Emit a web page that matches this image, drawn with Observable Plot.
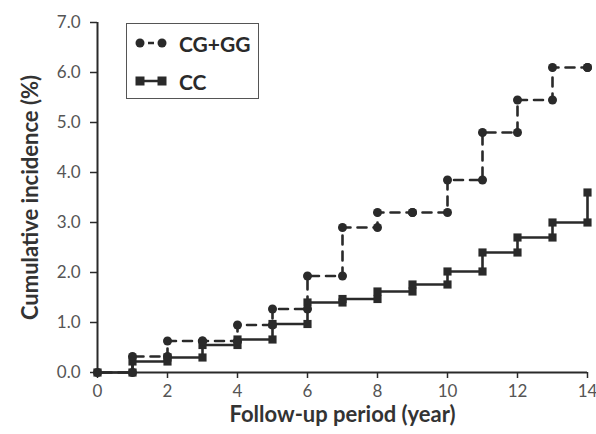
<!DOCTYPE html>
<html>
<head>
<meta charset="utf-8">
<script src="https://cdn.jsdelivr.net/npm/d3@7"></script>
<script src="https://cdn.jsdelivr.net/npm/@observablehq/plot@0.6"></script>
<style>
  html, body { margin: 0; padding: 0; background: #fff; }
  #wrap { position: relative; width: 596px; height: 434px; }
  #legend {
    position: absolute; left: 126px; top: 23px; width: 133px; height: 76px;
    border: 1px solid #555; background: #fff; box-sizing: border-box;
    font-family: Lato, "Open Sans", sans-serif; font-weight: bold; font-size: 21px; color: #2a2a2a;
  }
  .row { position: absolute; left: 0; height: 26px; display: flex; align-items: center; }
  .row svg { margin-left: 8px; }
  .row span { margin-left: 12px; }
</style>
</head>
<body>
<div id="wrap">
  <div id="chart"></div>
  <div id="legend"></div>
</div>
<script>
const years = [0, 1, 2, 3, 4, 5, 6, 7, 8, 9, 10, 11, 12, 13, 14];
const cgggValues = [0, 0.32, 0.63, 0.63, 0.95, 1.27, 1.93, 2.9, 3.2, 3.2, 3.85, 4.8, 5.45, 6.1, 6.1];
const ccValues = [0, 0.22, 0.3, 0.55, 0.66, 0.97, 1.4, 1.47, 1.62, 1.76, 2.02, 2.4, 2.7, 3.0, 3.6];
const seriesNames = ["CG+GG", "CC"];
const yTicks = [0, 1, 2, 3, 4, 5, 6, 7];
const xTicks = [0, 2, 4, 6, 8, 10, 12, 14];
const xLabel = "Follow-up period (year)";
const yLabel = "Cumulative incidence (%)";

const ink = "#2a2a2a";

function steps(values) {
  return years.map((t, i) => ({ t, v: values[i] }));
}
function markers(values) {
  const pts = [];
  years.forEach((t, i) => {
    if (i > 0) pts.push({ t, v: values[i - 1] });
    pts.push({ t, v: values[i] });
  });
  return pts;
}

const chart = Plot.plot({
  width: 596,
  height: 434,
  marginLeft: 97,
  marginRight: 9,
  marginTop: 22,
  marginBottom: 62,
  style: { fontFamily: "Lato, 'Open Sans', sans-serif", background: "#fff" },
  x: { domain: [0, 14] },
  y: { domain: [0, 7] },
  marks: [
    Plot.axisY({ ticks: yTicks, tickFormat: d3.format(".1f"), tickSize: 7, tickPadding: 10, fontSize: 17, color: "#555", stroke: ink, strokeWidth: 1.5, label: null }),
    Plot.axisX({ ticks: xTicks, tickFormat: d3.format("d"), tickSize: 6, tickPadding: 6, fontSize: 17, color: "#555", stroke: ink, strokeWidth: 1.5, label: null }),
    Plot.ruleX([0], { stroke: ink, strokeWidth: 2 }),
    Plot.ruleY([0], { stroke: ink, strokeWidth: 2 }),
    Plot.line(steps(ccValues), { x: "t", y: "v", curve: "step-after", stroke: ink, strokeWidth: 2.6 }),
    Plot.line(steps(cgggValues), { x: "t", y: "v", curve: "step-after", stroke: ink, strokeWidth: 2.6, strokeDasharray: "9,7", strokeDashoffset: -5 }),
    Plot.dot(markers(ccValues), { x: "t", y: "v", symbol: "square", r: 4.6, fill: ink, stroke: "none" }),
    Plot.dot(markers(cgggValues), { x: "t", y: "v", symbol: "circle", r: 4.5, fill: ink, stroke: "none" }),
    Plot.text([xLabel], { frameAnchor: "bottom", lineAnchor: "middle", textAnchor: "middle", dy: 42, fontSize: 22, fontWeight: "bold", fill: "#333" }),
    Plot.text([yLabel], { frameAnchor: "left", lineAnchor: "middle", textAnchor: "middle", dx: -67, rotate: -90, fontSize: 22, fontWeight: "bold", fill: "#333" })
  ]
});
document.getElementById("chart").appendChild(chart);

// Legend
const legend = document.getElementById("legend");
const rows = [
  { name: seriesNames[0], dashed: true, symbol: "circle", top: 6 },
  { name: seriesNames[1], dashed: false, symbol: "square", top: 44 }
];
rows.forEach(r => {
  const row = document.createElement("div");
  row.className = "row";
  row.style.top = r.top + "px";
  const sw = r.symbol === "circle"
    ? `<svg width="32" height="14"><line x1="5" y1="7" x2="27" y2="7" stroke="${ink}" stroke-width="2.5" stroke-dasharray="6,5" stroke-dashoffset="-8"/><circle cx="5" cy="7" r="4.5" fill="${ink}"/><circle cx="27" cy="7" r="4.5" fill="${ink}"/></svg>`
    : `<svg width="32" height="14"><line x1="5" y1="7" x2="27" y2="7" stroke="${ink}" stroke-width="2.5"/><rect x="0.5" y="2.5" width="9" height="9" fill="${ink}"/><rect x="22.5" y="2.5" width="9" height="9" fill="${ink}"/></svg>`;
  row.innerHTML = sw + `<span>${r.name}</span>`;
  legend.appendChild(row);
});
</script>
</body>
</html>
